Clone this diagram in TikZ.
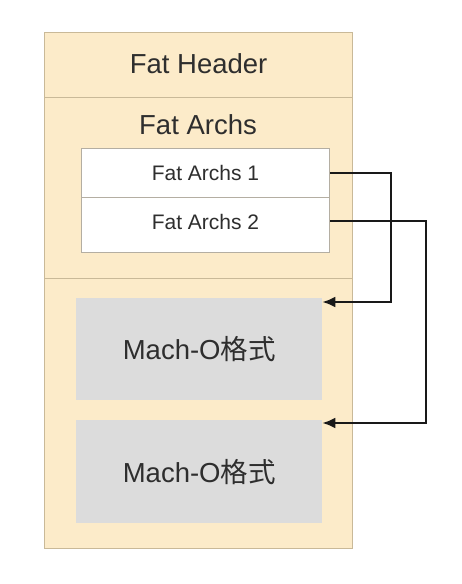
\documentclass[tikz,border=0pt]{standalone}
\usepackage{fontspec}
\setmainfont{Liberation Sans}
\newfontfamily\cjk{Noto Sans CJK SC}
\usetikzlibrary{arrows.meta}

\definecolor{fatbg}{HTML}{FCEBC9}
\definecolor{fatline}{HTML}{C9B998}
\definecolor{archline}{HTML}{B4AEA2}
\definecolor{machbg}{HTML}{DCDCDC}
\definecolor{ink}{HTML}{2E2E2E}

\tikzset{
  part/.style={draw=fatline,fill=fatbg,line width=1.2pt,minimum width=308pt,inner sep=0pt,anchor=north west,text=ink},
  archrow/.style={draw=archline,fill=white,line width=1pt,minimum width=248pt,inner sep=0pt,anchor=north west,text=ink,font=\fontsize{21}{25}\selectfont},
  machbox/.style={fill=machbg,minimum width=246pt,inner sep=0pt,anchor=north west,text=ink,font=\fontsize{27.5}{33}\selectfont},
  big/.style={text=ink,font=\fontsize{27.5}{33}\selectfont},
  link/.style={line width=2.2pt,draw=black!90,-{Latex[length=13pt,width=11pt]}}
}

\begin{document}
\begin{tikzpicture}[x=1pt,y=-1pt]
\useasboundingbox (0,0) rectangle (462,584);

\node[part,big,minimum height=65pt,text depth=4pt] (hdr) at (44,32) {Fat Header};
\node[part,minimum height=181pt] (archs) at (44,97) {};
\node[part,minimum height=270pt] (mach) at (44,278) {};

\node[big] (archsT) at (198,125) {Fat Archs};

\node[archrow,minimum height=49pt] (fa1) at (81,148) {Fat Archs 1};
\node[archrow,minimum height=55pt,text depth=6pt] (fa2) at (81,197) {Fat Archs 2};

\node[machbox,minimum height=102pt] (mo1) at (76,298) {Mach-O{\cjk 格式}};
\node[machbox,minimum height=103pt] (mo2) at (76,420) {Mach-O{\cjk 格式}};

\draw[link] (fa1.east) -- ++(61,0) |- ([yshift=-4pt]mo1.north east);
\draw[link] (fa2.east |- 0,221) -- ++(96,0) |- ([yshift=-3pt]mo2.north east);
\end{tikzpicture}
\end{document}
